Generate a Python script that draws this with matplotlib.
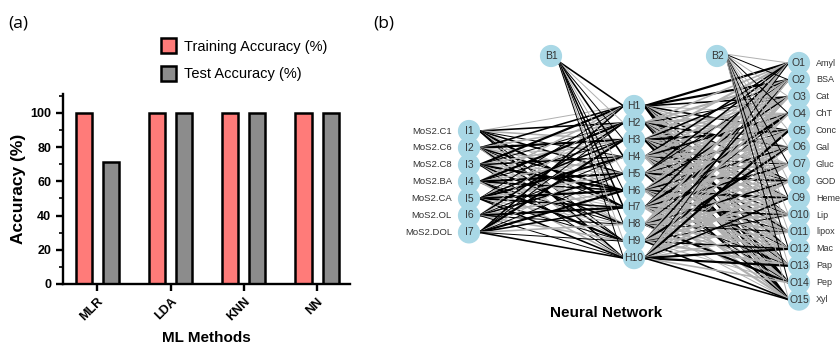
import numpy as np
import matplotlib
matplotlib.use("Agg")
import matplotlib.pyplot as plt
from matplotlib.patches import Circle

plt.rcParams['font.family'] = ['Liberation Sans', 'DejaVu Sans']

# ---------------- data: panel (a)
methods = ['MLR', 'LDA', 'KNN', 'NN']
train_acc = [100, 100, 100, 100]
test_acc = [71.4, 100, 100, 100]

# ---------------- data: panel (b)
in_labels = ['MoS2.C1', 'MoS2.C6', 'MoS2.C8', 'MoS2.BA', 'MoS2.CA', 'MoS2.OL', 'MoS2.DOL']
out_labels = ['Amyl', 'BSA', 'Cat', 'ChT', 'Conc', 'Gal', 'Gluc', 'GOD', 'Heme',
              'Lip', 'lipox', 'Mac', 'Pap', 'Pep', 'Xyl']
n_hidden = 10

# estimated weights (sign -> colour, size -> width)
w_ih = [
    [-1, 2, -2, 1, 2, -1, 3, -1, 1, 2],
    [2, -2, 3, -1, -2, 2, 1, -2, 2, -1],
    [3, 1, -2, 2, -1, 3, -1, 2, -1, 1],
    [-2, 3, 1, -2, 3, 2, -1, 1, 3, -2],
    [1, -1, 2, 3, -2, 3, 2, -1, 1, 2],
    [-1, 2, -1, 1, 2, -2, 3, 1, -2, 1],
    [2, 1, 3, -1, 1, 3, 2, -2, 1, 2],
]
w_bh = [2, -1, 1, 2, -1, 1, 2, 1, -1, 1]
w_ho = [
    [3, 3, 2, -1, 2, -2, -1, 2, -1, 1, -2, -1, 2, 2, 3],
    [-2, -3, 1, -3, -2, 2, -1, -2, 1, -2, -1, 2, -2, 2, 1],
    [-3, 2, -2, -2, 3, -1, -3, 1, -2, -3, 2, -1, -2, 2, 2],
    [2, -2, -3, 2, -2, -3, 1, -2, -3, 1, -2, -3, 1, -2, -2],
    [2, 1, -2, -3, 1, -2, -2, 3, -1, -2, -3, 1, -2, -3, 2],
    [-1, -3, 2, -2, -3, 2, -2, -1, 3, -2, 1, -2, -3, 1, -2],
    [2, -2, -1, 3, -2, -3, 2, -2, -1, 2, -3, -2, 1, -2, -3],
    [-3, -1, -2, 1, -2, -1, -3, 2, -2, -3, 1, -2, -2, 3, -1],
    [-2, 2, -3, -1, -2, 3, -1, -2, -3, 1, -2, 2, -3, -1, 2],
    [1, -2, -1, -2, 3, -1, -2, -3, 2, -1, -2, 3, 3, -2, 2],
]
w_bo = [-1, 1, -1, 1, -1, -1, 1, -1, 1, -1, -1, 1, -1, 1, -1]

fig = plt.figure(figsize=(8.4, 3.46), dpi=100)

# ================= panel (a) =================
ax = fig.add_axes([63/840, 62/346, 287/840, 190/346])
x = np.arange(len(methods))
bw, off = 0.22, 0.185
ax.bar(x - off, train_acc, bw, color='#FF7B79', edgecolor='black', linewidth=1.8,
       label='Training Accuracy (%)')
ax.bar(x + off, test_acc, bw, color='#8C8C8C', edgecolor='black', linewidth=1.8,
       label='Test Accuracy (%)')
ax.set_xlim(-0.47, 3.45)
ax.set_ylim(0, 111)
ax.set_yticks(range(0, 101, 20))
ax.set_yticks(range(10, 111, 10), minor=True)
ax.set_xticks(x)
ax.set_xticklabels(methods, rotation=45, ha='right', rotation_mode='anchor',
                   fontsize=9, fontweight='bold')
for t in ax.get_yticklabels():
    t.set_fontweight('bold')
    t.set_fontsize(9)
for s in ['top', 'right']:
    ax.spines[s].set_visible(False)
for s in ['left', 'bottom']:
    ax.spines[s].set_linewidth(1.7)
ax.tick_params(axis='both', width=1.7, length=5)
ax.tick_params(axis='y', which='minor', width=1.2, length=3)
ax.set_ylabel('Accuracy (%)', fontsize=12.5, fontweight='bold', labelpad=3)
ax.set_xlabel('ML Methods', fontsize=11, fontweight='bold', labelpad=5)
fig.legend(loc='upper left', bbox_to_anchor=(148/840, 1 - 25/346), frameon=False,
           fontsize=10.5, handlelength=1.0, handleheight=1.2, handletextpad=0.6,
           labelspacing=0.85)
fig.text(8/840, 1 - 23/346, '(a)', fontsize=12.5, va='center', family='Open Sans')
fig.text(373/840, 1 - 23/346, '(b)', fontsize=12.5, va='center', family='Open Sans')

# ================= panel (b) =================
nx = fig.add_axes([380/840, 0, 460/840, 1])
nx.set_xlim(380, 840)
nx.set_ylim(346, 0)
nx.axis('off')

r = 10.4
x_in, x_hid, x_out = 469, 634, 799
dy = 16.9
y_in = 131 + dy * np.arange(len(in_labels))
y_hid = 106 + dy * np.arange(n_hidden)
y_out = 63 + dy * np.arange(len(out_labels))
b1 = (551, 56)
b2 = (717, 56)
pos_col, neg_col = 'black', '#b0b0b0'


def edge(x0, y0, x1, y1, w):
    nx.plot([x0, x1], [y0, y1], color=pos_col if w > 0 else neg_col,
            lw=0.25 + 0.45 * abs(w), solid_capstyle='butt', zorder=1)


for i, yi in enumerate(y_in):
    for j, yh in enumerate(y_hid):
        edge(x_in + r, yi, x_hid - r, yh, w_ih[i][j])
for j, yh in enumerate(y_hid):
    edge(b1[0] + 7, b1[1] + 5, x_hid - r, yh, w_bh[j])
for j, yh in enumerate(y_hid):
    for k, yo in enumerate(y_out):
        edge(x_hid + r, yh, x_out - r, yo, w_ho[j][k])
for k, yo in enumerate(y_out):
    edge(b2[0] + 8, b2[1] - 2, x_out - r, yo, w_bo[k])

node_col = '#a9d8e6'
lab_kw = dict(ha='center', va='center', fontsize=7.5, color='#333333', zorder=4)
for i, yi in enumerate(y_in):
    nx.add_patch(Circle((x_in, yi), r, color=node_col, zorder=3))
    nx.text(x_in, yi, f'I{i+1}', **lab_kw)
    nx.text(x_in - 17, yi, in_labels[i], ha='right', va='center', fontsize=6.8,
            color='#333333')
for j, yh in enumerate(y_hid):
    nx.add_patch(Circle((x_hid, yh), r, color=node_col, zorder=3))
    nx.text(x_hid, yh, f'H{j+1}', **lab_kw)
for k, yo in enumerate(y_out):
    nx.add_patch(Circle((x_out, yo), r, color=node_col, zorder=3))
    nx.text(x_out, yo, f'O{k+1}', **lab_kw)
    nx.text(x_out + 17, yo, out_labels[k], ha='left', va='center', fontsize=6.5,
            color='#333333')
for name, (bx, by) in [('B1', b1), ('B2', b2)]:
    nx.add_patch(Circle((bx, by), r, color=node_col, zorder=3))
    nx.text(bx, by, name, **lab_kw)

nx.text(606, 313, 'Neural Network', ha='center', va='center', fontsize=11,
        fontweight='bold')

fig.savefig('out.png', dpi=100)
